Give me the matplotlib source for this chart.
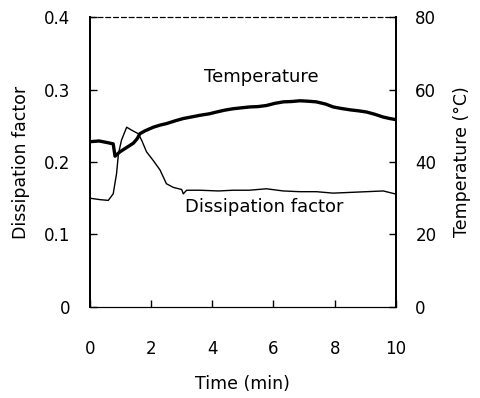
import matplotlib.pyplot as plt

plt.rcParams["font.family"] = ["DejaVu Sans"]

# temperature (right axis, deg C)
temp_time = [0.0, 0.3, 0.6, 0.76, 0.82, 0.9, 0.98, 1.2, 1.42, 1.55, 1.63, 1.8, 2.07, 2.3, 2.5,
             2.8, 3.05, 3.3, 3.6, 3.9, 4.14, 4.4, 4.68, 5.0, 5.23, 5.5, 5.77, 6.05, 6.32,
             6.6, 6.86, 7.1, 7.4, 7.7, 7.95, 8.2, 8.5, 8.8, 9.04, 9.3, 9.59, 9.8, 10.0]
temp_vals = [45.6, 45.8, 45.3, 45.0, 41.6, 42.2, 42.8, 44.0, 45.2, 46.5, 47.8, 48.6, 49.6, 50.2, 50.6,
             51.4, 52.0, 52.4, 52.9, 53.3, 53.8, 54.3, 54.7, 55.0, 55.2, 55.3, 55.6, 56.2, 56.6,
             56.7, 56.9, 56.8, 56.6, 56.0, 55.2, 54.8, 54.4, 54.1, 53.8, 53.2, 52.4, 52.0, 51.7]

# dissipation factor (left axis)
df_time = [0.0, 0.33, 0.6, 0.76, 0.87, 0.93, 1.03, 1.2, 1.36, 1.58, 1.69, 1.85, 2.07, 2.29, 2.5,
           2.72, 3.0, 3.05, 3.16, 3.6, 4.2, 4.68, 5.2, 5.77, 6.32, 6.86, 7.4, 7.95, 8.5, 9.04,
           9.59, 9.97]
df_vals = [0.150, 0.148, 0.147, 0.156, 0.184, 0.211, 0.230, 0.248, 0.244, 0.239, 0.230, 0.214,
           0.202, 0.189, 0.170, 0.165, 0.162, 0.156, 0.161, 0.161, 0.160, 0.161, 0.161, 0.163,
           0.160, 0.159, 0.159, 0.157, 0.158, 0.159, 0.160, 0.156]

fig = plt.figure(figsize=(4.81, 3.98), dpi=100)
ax = fig.add_axes([0.187, 0.229, 0.636, 0.728])
ax2 = ax.twinx()

ax.plot(df_time, df_vals, color="black", lw=1.0)
ax2.plot(temp_time, temp_vals, color="black", lw=2.4)

ax.set_xlim(0, 10)
ax.set_ylim(0, 0.4)
ax2.set_ylim(0, 80)
ax.set_xticks([0, 2, 4, 6, 8, 10])
ax.set_yticks([0, 0.1, 0.2, 0.3, 0.4])
ax.set_yticklabels(["0", "0.1", "0.2", "0.3", "0.4"])
ax2.set_yticks([0, 20, 40, 60, 80])

for a in (ax, ax2):
    a.tick_params(direction="in", length=5, width=1, labelsize=12)
    a.spines["top"].set_linestyle((0, (4, 3)))
    a.spines["top"].set_linewidth(0.8)
    a.spines["bottom"].set_linewidth(0.8)
    a.spines["left"].set_linewidth(1.3)
    a.spines["right"].set_linewidth(1.3)
ax.tick_params(axis="x", pad=24)
ax.tick_params(axis="y", pad=14)
ax2.tick_params(axis="y", pad=14)

ax.set_xlabel("Time (min)", fontsize=12.5, labelpad=12)
ax.set_ylabel("Dissipation factor", fontsize=12.5, labelpad=10)
ax2.set_ylabel("Temperature (\u00b0C)", fontsize=12.5, labelpad=12)

ax.text(5.59, 0.317, "Temperature", fontsize=13, ha="center", va="center")
ax.text(5.7, 0.138, "Dissipation factor", fontsize=13, ha="center", va="center")

fig.savefig("out.png", dpi=100)
